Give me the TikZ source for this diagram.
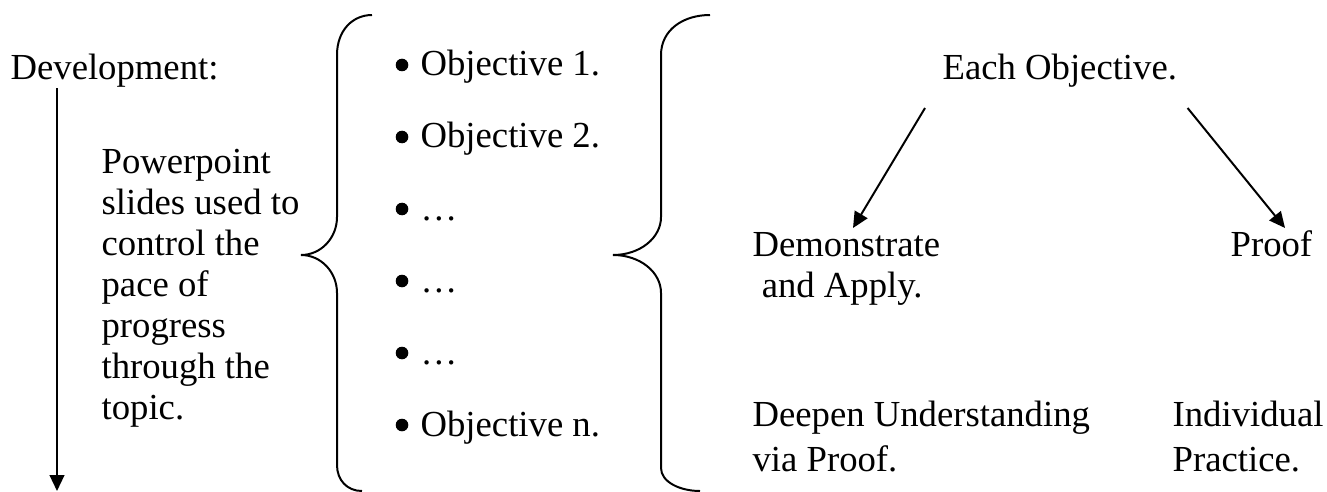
\documentclass[tikz,border=0pt]{standalone}
\usepackage{fontspec}
\setmainfont{Liberation Serif}
\usetikzlibrary{arrows.meta, calc}
\tikzstyle{plaintext} = [inner sep=0pt, anchor=base west, align=left, font=\fontsize{12}{13.4}\selectfont]
\tikzstyle{widetext} = [plaintext, font=\fontsize{12}{14.4}\selectfont]
\tikzstyle{listitem} = [plaintext]
\tikzstyle{arrow} = [line width=0.65pt, -{Triangle[length=5.2pt, width=4.8pt]}]
\tikzstyle{bracket} = [line width=0.65pt]

\begin{document}
\begin{tikzpicture}[x=0.327pt, y=-0.327pt]
    \path[use as bounding box, fill=white] (0,0) rectangle (1327,492);

    % Left column (multi-line nodes sit on their last baseline)
    \node (dev) [plaintext] at (10,80) {Development:};
    \node (slides) [plaintext] at (101,419) {Powerpoint\\slides used to\\control the\\pace of\\progress\\through the\\topic.};
    \coordinate (devend) at (57,491);
    \draw [arrow] (dev.south -| devend) -- (devend);

    % First brace
    \draw [bracket] (372,15) .. controls (353,15) and (337,30) .. (337,55)
        -- (337,217) .. controls (337,238) and (321,255) .. (301,255)
        .. controls (321,255) and (337,272) .. (337,293)
        -- (337,465) .. controls (337,480) and (347,491) .. (362,491);

    % Objectives with round bullets
    \foreach \txt [count=\i from 0] in {Objective 1., Objective 2., …, …, …, Objective n.}{
        \node (obj\i) [listitem] at (420,76+72*\i) {\txt};
        \fill ($(obj\i.base west)+(-18,-11)$) circle (6.3);
    }

    % Second brace
    \draw [bracket] (710,15) .. controls (683,15) and (661,30) .. (661,55)
        -- (661,217) .. controls (661,238) and (640,255) .. (613,255)
        .. controls (640,255) and (661,272) .. (661,293)
        -- (661,468) .. controls (661,482) and (680,491) .. (700,491);

    % Each objective splits in two
    \node (each) [plaintext] at (942,80) {Each Objective.};
    \node (demo) [plaintext] at (752,297) {Demonstrate\\\hspace*{0.25em}and Apply.};
    \node (proof) [plaintext] at (1230,256) {Proof};
    \node (deepen) [widetext] at (752,471) {Deepen Understanding\\via Proof.};
    \node (practice) [widetext] at (1172,471) {Individual\\Practice.};

    \draw [arrow] ($(each.base west)+(-17,28)$) -- ($(demo.base west)+(101,-69)$);
    \draw [arrow] ($(each.base east)+(10,28)$) -- ($(proof.base west)+(55,-28)$);
\end{tikzpicture}
\end{document}
